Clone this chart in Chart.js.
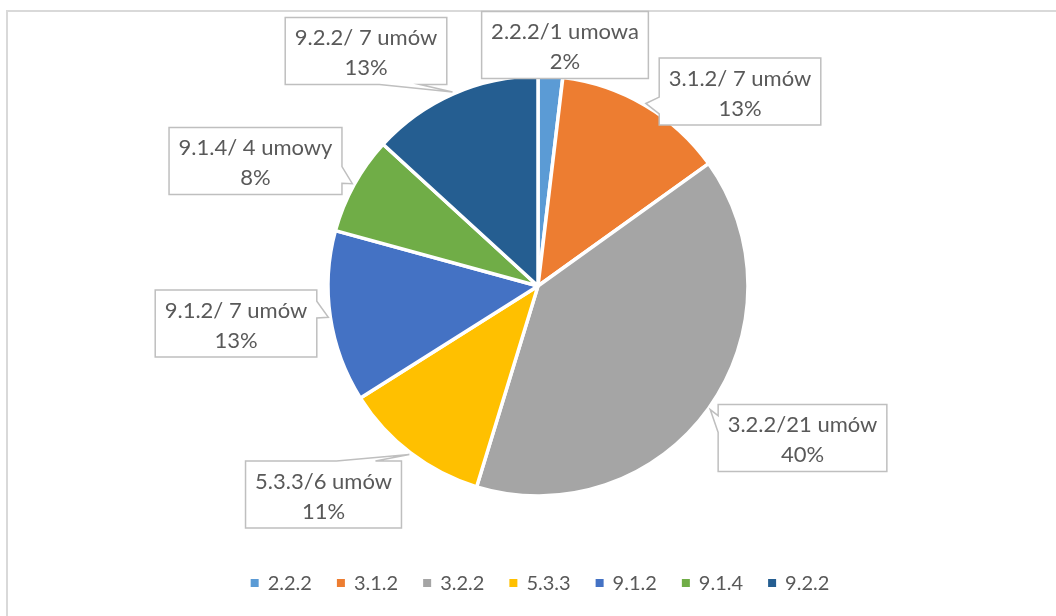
<!DOCTYPE html>
<html><head><meta charset="utf-8">
<script src="https://cdn.jsdelivr.net/npm/chart.js@4.4.1/dist/chart.umd.min.js"></script>
<style>html,body{margin:0;padding:0;background:#fff;overflow:hidden}#wrap{width:1056px;height:616px;position:relative}</style>
</head><body><div id="wrap"><canvas id="c" width="1056" height="616"></canvas></div>
<script>
// ---- data ----
const categories = ['2.2.2', '3.1.2', '3.2.2', '5.3.3', '9.1.2', '9.1.4', '9.2.2'];
const contracts = [1, 7, 21, 6, 7, 4, 7];
const labelTexts = ['2.2.2/1 umowa', '3.1.2/ 7 umów', '3.2.2/21 umów', '5.3.3/6 umów', '9.1.2/ 7 umów', '9.1.4/ 4 umowy', '9.2.2/ 7 umów'];
const sliceColors = ['#5B9BD5', '#ED7D31', '#A5A5A5', '#FFC000', '#4472C4', '#70AD47', '#255E91'];

// ---- layout (callout box centres relative to pie centre) ----
const calloutOffsets = [[27, -241], [202, -194.5], [264.5, 152], [-214.5, 208.5], [-302, 37.5], [-282.5, -125], [-172, -235]];
const TEXT = '#595959';
const LABEL_FONT = '22px Lato';
const LEGEND_FONT = '20px Lato';

const frame = {
  id: 'frame',
  beforeDraw(chart) {
    const ctx = chart.ctx;
    ctx.save();
    ctx.strokeStyle = '#d9d9d9';
    ctx.lineWidth = 2;
    ctx.beginPath();
    ctx.moveTo(7, 616); ctx.lineTo(7, 11); ctx.lineTo(1056, 11);
    ctx.stroke();
    ctx.restore();
  }
};

const callouts = {
  id: 'callouts',
  afterDatasetsDraw(chart) {
    const ctx = chart.ctx;
    const ds = chart.data.datasets[0].data;
    const total = ds.reduce((a, b) => a + b, 0);
    const meta = chart.getDatasetMeta(0);
    ctx.save();
    meta.data.forEach((arc, i) => {
      const p = arc.getProps(['x', 'y', 'startAngle', 'endAngle', 'outerRadius'], true);
      const mid = (p.startAngle + p.endAngle) / 2;
      const tip = { x: p.x + Math.cos(mid) * (p.outerRadius + 2), y: p.y + Math.sin(mid) * (p.outerRadius + 2) };
      const cx = p.x + calloutOffsets[i][0], cy = p.y + calloutOffsets[i][1];
      const l1 = labelTexts[i];
      const l2 = Math.round(ds[i] / total * 100) + '%';
      ctx.font = LABEL_FONT;
      const w = Math.max(ctx.measureText(l1).width, ctx.measureText(l2).width) + 19;
      const h = 67;
      const L = cx - w / 2, R = cx + w / 2, T = cy - h / 2, B = cy + h / 2;
      const dx = tip.x - cx, dy = tip.y - cy;
      const inside = Math.abs(dx) <= w / 2 && Math.abs(dy) <= h / 2;
      let side = null;
      if (!inside) side = Math.abs(dx) / w > Math.abs(dy) / h ? (dx < 0 ? 'left' : 'right') : (dy < 0 ? 'top' : 'bottom');
      const fx = dx < 0 ? [2 / 12, 5 / 12] : [7 / 12, 10 / 12];
      const fy = dy < 0 ? [2 / 12, 5 / 12] : [7 / 12, 10 / 12];
      ctx.beginPath();
      ctx.moveTo(L, T);
      if (side === 'top') { ctx.lineTo(L + w * fx[0], T); ctx.lineTo(tip.x, tip.y); ctx.lineTo(L + w * fx[1], T); }
      ctx.lineTo(R, T);
      if (side === 'right') { ctx.lineTo(R, T + h * fy[0]); ctx.lineTo(tip.x, tip.y); ctx.lineTo(R, T + h * fy[1]); }
      ctx.lineTo(R, B);
      if (side === 'bottom') { ctx.lineTo(L + w * fx[1], B); ctx.lineTo(tip.x, tip.y); ctx.lineTo(L + w * fx[0], B); }
      ctx.lineTo(L, B);
      if (side === 'left') { ctx.lineTo(L, T + h * fy[1]); ctx.lineTo(tip.x, tip.y); ctx.lineTo(L, T + h * fy[0]); }
      ctx.closePath();
      ctx.fillStyle = '#ffffff';
      ctx.fill();
      ctx.strokeStyle = '#bfbfbf';
      ctx.lineWidth = 1.5;
      ctx.lineJoin = 'miter';
      ctx.stroke();
      ctx.fillStyle = TEXT;
      ctx.textAlign = 'center';
      ctx.textBaseline = 'alphabetic';
      ctx.fillText(l1, cx, cy - 6);
      ctx.fillText(l2, cx, cy + 24);
    });
    ctx.restore();
  }
};

const legendRow = {
  id: 'legendRow',
  afterDraw(chart) {
    const ctx = chart.ctx;
    const labels = chart.data.labels;
    const colors = chart.data.datasets[0].backgroundColor;
    const box = 8, gapText = 9, gapItem = 25, yc = 583;
    ctx.save();
    ctx.font = LEGEND_FONT;
    const widths = labels.map(l => box + gapText + ctx.measureText(l).width);
    const total = widths.reduce((a, b) => a + b, 0) + gapItem * (labels.length - 1);
    const centreX = chart.getDatasetMeta(0).data[0].x + 2;
    let x = centreX - total / 2;
    ctx.textAlign = 'left';
    ctx.textBaseline = 'middle';
    labels.forEach((lab, i) => {
      ctx.fillStyle = colors[i];
      ctx.fillRect(x, yc - box / 2, box, box);
      ctx.fillStyle = TEXT;
      ctx.fillText(lab, x + box + gapText, yc + 1);
      x += widths[i] + gapItem;
    });
    ctx.restore();
  }
};

new Chart(document.getElementById('c'), {
  type: 'pie',
  data: {
    labels: categories,
    datasets: [{
      data: contracts,
      backgroundColor: sliceColors,
      borderColor: '#ffffff',
      borderWidth: 3.5
    }]
  },
  options: {
    responsive: false,
    animation: false,
    radius: 210,
    layout: { padding: { left: 100, right: 80, top: 70, bottom: 114 } },
    plugins: { legend: { display: false }, tooltip: { enabled: false } }
  },
  plugins: [frame, callouts, legendRow]
});
</script>
</body></html>
